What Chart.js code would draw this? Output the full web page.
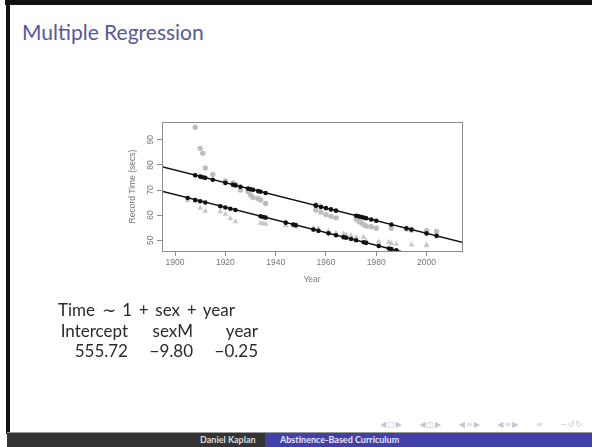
<!DOCTYPE html>
<html>
<head>
<meta charset="utf-8">
<script src="https://cdn.jsdelivr.net/npm/chart.js@4.4.1/dist/chart.umd.min.js"></script>
<style>
body { margin: 0; width: 592px; height: 447px; position: relative; overflow: hidden; background: #fff; font-family: Lato, sans-serif; }
#myChart { position: absolute; left: 0; top: 0; }
.abs { position: absolute; white-space: nowrap; }
#frameTop { position: absolute; left: 5px; top: 0; width: 587px; height: 5px; background: #111; }
#frameLeft { position: absolute; left: 6px; top: 0; width: 4px; height: 434px; background: #111; }
#title { left: 22px; top: 21px; font-size: 21px; line-height: 21px; color: #58589a; }
.eq { font-size: 17px; line-height: 17px; color: #2a2a2a; }
.col { text-align: right; }
#footLine { position: absolute; left: 7px; top: 432px; width: 585px; height: 1px; background: #999; }
#footLeft { position: absolute; left: 7px; top: 433px; width: 258px; height: 14px; background: #333; }
#footRight { position: absolute; left: 265px; top: 433px; width: 327px; height: 14px; background: #4040a8; }
.foot { font-size: 9px; line-height: 14px; top: 433px; font-weight: bold; }
#nav { left: 380px; top: 420px; font-family: "DejaVu Sans", sans-serif; font-size: 8px; color: #c4c4d4; word-spacing: 13px; letter-spacing: 1px; }
</style>
</head>
<body>
<div id="frameTop"></div>
<div id="frameLeft"></div>
<div class="abs" id="title">Multiple Regression</div>

<canvas id="myChart" width="592" height="447"></canvas>

<div class="abs eq" style="left:58px; top:301px; word-spacing:2.3px;">Time &#8764; 1 + sex + year</div>
<div class="abs eq col" style="left:40px; width:88px; top:322px;">Intercept</div>
<div class="abs eq col" style="left:140px; width:53px; top:322px;">sexM</div>
<div class="abs eq col" style="left:200px; width:58px; top:322px;">year</div>
<div class="abs eq col" style="left:40px; width:88px; top:342px;">555.72</div>
<div class="abs eq col" style="left:140px; width:53px; top:342px;">&#8722;9.80</div>
<div class="abs eq col" style="left:200px; width:58px; top:342px;">&#8722;0.25</div>

<div class="abs" id="nav">&#9664;&#9633;&#9654; &#9664;&#9707;&#9654; &#9664;&#8801;&#9654; &#9664;&#8801;&#9654; &#8801; &#8765;&#8634;&#8635;</div>
<div id="footLine"></div>
<div id="footLeft"></div>
<div id="footRight"></div>
<div class="abs foot" style="left:200px; color:#ddd;">Daniel Kaplan</div>
<div class="abs foot" style="left:280px; color:#e6e6f4;">Abstinence-Based Curriculum</div>

<script>
// 100m freestyle world records
var womenYears = [1908, 1910, 1911, 1912, 1915, 1920, 1923, 1924, 1926, 1929, 1930, 1931, 1933, 1934, 1936,
    1956, 1956, 1958, 1960, 1962, 1964, 1972, 1973, 1974, 1975, 1976, 1978, 1980, 1986, 1992, 1994, 2000, 2004];
var womenTimes = [95.0, 86.6, 84.6, 78.8, 76.2, 73.6, 72.8, 72.2, 70.0, 69.4, 68.0, 67.0, 66.6, 66.0, 64.6,
    64.0, 62.0, 61.2, 60.2, 59.5, 58.9, 58.5, 57.54, 56.96, 56.22, 55.65, 55.41, 54.79, 54.73, 54.48, 54.01, 53.77, 53.52];
var womenFitted = [75.85, 75.35, 75.10, 74.85, 74.09, 72.84, 72.08, 71.83, 71.33, 70.57, 70.32, 70.07, 69.57, 69.32, 68.81,
    63.78, 63.78, 63.28, 62.78, 62.27, 61.77, 59.76, 59.51, 59.26, 59.00, 58.75, 58.25, 57.75, 56.24, 54.73, 54.23, 52.72, 51.71];

var menYears = [1905, 1908, 1910, 1912, 1918, 1920, 1922, 1924, 1934, 1935, 1936, 1944, 1947, 1948, 1955, 1957,
    1961, 1964, 1967, 1968, 1970, 1972, 1975, 1976, 1981, 1985, 1986, 1988, 1994, 2000, 2000];
var menTimes = [65.8, 65.6, 62.8, 61.6, 61.4, 60.4, 58.6, 57.4, 56.8, 56.6, 56.4, 55.9, 55.8, 55.4, 54.8, 54.6,
    53.6, 52.9, 52.6, 52.2, 51.9, 51.22, 51.11, 49.44, 49.36, 49.24, 48.74, 48.42, 48.21, 48.18, 47.84];
var menFitted = [66.81, 66.05, 65.55, 65.05, 63.54, 63.04, 62.53, 62.03, 59.52, 59.26, 59.01, 57.00, 56.25, 55.99, 54.23, 53.73,
    52.73, 51.97, 51.22, 50.96, 50.46, 49.96, 49.20, 48.95, 47.70, 46.69, 46.44, 45.93, 44.43, 42.92, 42.92];

// fitted lines: Time ~ 1 + sex + year
var lineYears = [1890, 2020];
var womenLine = [80.48, 47.69];
var menLine = [70.68, 37.89];

var xTicks = [1900, 1920, 1940, 1960, 1980, 2000];
var yTicks = [50, 60, 70, 80, 90];

function pts(xs, ys) {
    return xs.map(function (x, i) { return { x: x, y: ys[i] }; });
}

var boxPlugin = {
    id: 'box',
    afterDatasetsDraw: function (chart) {
        var a = chart.chartArea, c = chart.ctx;
        c.save();
        c.strokeStyle = '#8c8c8c';
        c.lineWidth = 1;
        c.strokeRect(Math.round(a.left) + 0.5, Math.round(a.top) + 0.5, Math.round(a.right - a.left), Math.round(a.bottom - a.top));
        c.restore();
    }
};

var tickFont = { family: '"Liberation Sans", Arial, sans-serif', size: 8.5 };

var ctx = document.getElementById('myChart').getContext('2d');
var myChart = new Chart(ctx, {
    type: 'scatter',
    data: {
        datasets: [
            {
                label: 'fitted F',
                data: pts(womenYears, womenFitted),
                backgroundColor: '#111',
                pointRadius: 2.3,
                borderWidth: 0,
                order: 1
            },
            {
                label: 'fitted M',
                data: pts(menYears, menFitted),
                backgroundColor: '#111',
                pointRadius: 2.3,
                borderWidth: 0,
                order: 1
            },
            {
                label: 'line F',
                type: 'line',
                data: pts(lineYears, womenLine),
                borderColor: '#111',
                borderWidth: 1.5,
                pointRadius: 0,
                clip: 0,
                order: 2
            },
            {
                label: 'line M',
                type: 'line',
                data: pts(lineYears, menLine),
                borderColor: '#111',
                borderWidth: 1.5,
                pointRadius: 0,
                clip: 0,
                order: 2
            },
            {
                label: 'F',
                data: pts(womenYears, womenTimes),
                backgroundColor: '#bdbdbd',
                pointStyle: 'circle',
                pointRadius: 2.7,
                borderWidth: 0,
                order: 3
            },
            {
                label: 'M',
                data: pts(menYears, menTimes),
                backgroundColor: '#c8c8c8',
                pointStyle: 'triangle',
                pointRadius: 3.3,
                borderWidth: 0,
                order: 3
            }
        ]
    },
    options: {
        responsive: false,
        animation: false,
        events: [],
        layout: { padding: { left: 128, right: 130, top: 122, bottom: 156 } },
        plugins: { legend: { display: false }, tooltip: { enabled: false } },
        scales: {
            x: {
                type: 'linear',
                min: 1894.8,
                max: 2014.1,
                afterFit: function (s) { s.height = 40; },
                afterBuildTicks: function (s) { s.ticks = xTicks.map(function (v) { return { value: v }; }); },
                border: { display: false },
                grid: { drawOnChartArea: false, drawTicks: true, tickLength: 5, color: '#8c8c8c' },
                ticks: { font: tickFont, color: '#777', padding: 1.5, maxRotation: 0, autoSkip: false,
                    callback: function (v) { return String(v); } },
                title: { display: true, text: 'Year', font: tickFont, color: '#777', padding: { top: 0, bottom: 6 } }
            },
            y: {
                type: 'linear',
                min: 45.7,
                max: 97.1,
                afterFit: function (s) { s.width = 34; },
                afterBuildTicks: function (s) { s.ticks = yTicks.map(function (v) { return { value: v }; }); },
                border: { display: false },
                grid: { drawOnChartArea: false, drawTicks: true, tickLength: 5, color: '#8c8c8c' },
                ticks: { font: tickFont, color: '#777', padding: 1.3, minRotation: 90, maxRotation: 90,
                    crossAlign: 'center', autoSkip: false },
                title: { display: true, text: 'Record Time (secs)', font: tickFont, color: '#777', padding: { top: 0, bottom: 0 } }
            }
        }
    },
    plugins: [boxPlugin]
});
</script>
</body>
</html>
